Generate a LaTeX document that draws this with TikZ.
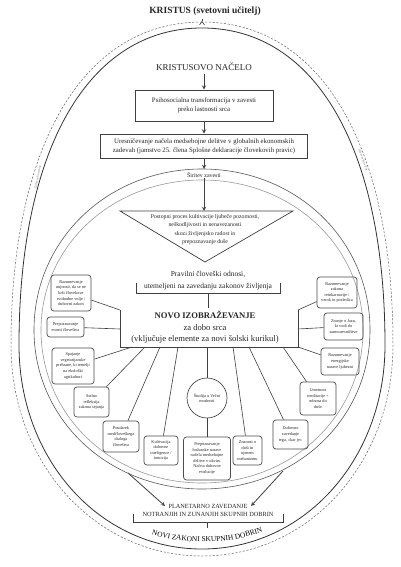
\documentclass[tikz,border=0pt]{standalone}
\usepackage{fontspec}
\setmainfont{Liberation Serif}
\usetikzlibrary{decorations.text}

\def\midX{204}
\def\baseY{347}
% egg shaped ring: centre x, top, widest, bottom, half width, top bulge, style
\newcommand{\egg}[7]{%
  \draw [#7] (#1,#2)
    .. controls ({#1-#6*#5},#2) and ({#1-#5},{#3-#6*(#3-#2)}) .. ({#1-#5},#3)
    .. controls ({#1-#5},{#3+0.56*(#4-#3)}) and ({#1-0.56*#5},#4) .. (#1,#4)
    .. controls ({#1+0.56*#5},#4) and ({#1+#5},{#3+0.56*(#4-#3)}) .. ({#1+#5},#3)
    .. controls ({#1+#5},{#3-#6*(#3-#2)}) and ({#1+#6*#5},#2) .. cycle;}

\begin{document}
\begin{tikzpicture}[x=1pt, y=-1pt, >=stealth,
    card/.style={draw=black!70, line width=0.7pt, rounded corners=3pt, align=center,
      inner sep=1pt, text=black!85, font=\fontsize{4.3}{5.6}\selectfont},
    frame/.style={draw=black!75, line width=0.8pt, align=center, text=black!85,
      font=\fontsize{6.8}{9}\selectfont},
    link/.style={draw=black!75, line width=0.6pt},
    tag/.style={text=black!55, font=\fontsize{3}{3}\selectfont}]
  \useasboundingbox (0,0) rectangle (400,567);
  \fill [white] (0,0) rectangle (400,567);

  \egg{202}{22}{345}{556}{191}{0.62}{black!60, line width=0.5pt, dash pattern=on 2.2pt off 1.6pt}
  \egg{202}{28}{345}{549}{183}{0.62}{black!80, line width=0.8pt}
  \egg{202}{169}{330}{489}{168}{0.56}{black!65, line width=0.6pt}
  \egg{202}{180}{330}{483}{161}{0.56}{black!40, line width=0.6pt}

  \node [tag, rotate=79] (lefttag) at (38,177) {Duhovna hierarhija};
  \node [tag, rotate=-70] (righttag) at (363,160) {Duhovna hierarhija};

  \node [text=black!85, font=\bfseries\fontsize{9.5}{11}\selectfont] (kristus) at (205,11) {KRISTUS (svetovni učitelj)};
  \coordinate (fork) at (202,21.5);
  \draw [link] (kristus.south -| fork) -- (fork);
  \draw [link] (199.5,25) -- (fork) -- (204.5,25);

  \node [text=black!85, font=\fontsize{9}{10}\selectfont] (principle) at (\midX,67) {KRISTUSOVO NAČELO};
  \node [frame, minimum width=138, minimum height=31] (psych) at (\midX,105.5)
    {Psihosocialna transformacija v zavesti\\preko lastnosti srca};
  \node [frame, minimum width=207, minimum height=24, inner sep=1pt] (econ) at (\midX,146)
    {Uresničevanje načela medsebojne delitve v globalnih ekonomskih\\zadevah (jamstvo 25. člena Splošne deklaracije človekovih pravic)};
  \draw [link, line width=0.9pt, ->] (principle) -- (psych);
  \draw [link, line width=0.9pt, ->] (psych) -- (econ);

  \coordinate (ringtop) at (\midX,169);
  \node [text=black!85, inner sep=0.5pt, font=\fontsize{5.9}{7}\selectfont] (expand) at (\midX,175) {Širitev zavesti};
  \draw [link, line width=0.9pt, ->] (econ) -- (ringtop);

  \coordinate (tl) at (120,211);
  \coordinate (tr) at (293,211);
  \coordinate (tb) at (205,262);
  \coordinate (tritop) at (\midX,211);
  \draw [link, line width=0.7pt] (tl) -- (tr) -- (tb) -- cycle;
  \node [align=center, text=black!85, font=\fontsize{5.8}{8.6}\selectfont] (tri) at (205,229.5)
    {Postopni proces kultivacije ljubeče pozornosti,\\neškodljivosti in nenavezanosti\\skozi življenjsko radost in\\prepoznavanje duše};
  \draw [link, line width=0.9pt, ->] (expand) -- (tritop);

  \node [align=center, text=black!85, font=\fontsize{7.5}{12}\selectfont] (rel) at (208,281)
    {Pravilni človeški odnosi,\\utemeljeni na zavedanju zakonov življenja};
  \node [align=center, text=black!85, font=\fontsize{8.6}{11.5}\selectfont] (edu) at (205,327.5)
    {{\bfseries NOVO IZOBRAŽEVANJE}\\za dobo srca\\(vključuje elemente za novi šolski kurikul)};
  \coordinate (relstem) at (208,293);
  \draw [link] (136,283) -- (136,293) -- (280,293) -- (280,283);
  \draw [link] (relstem) -- (relstem |- edu.north);

  % left, right and lower boxes
  \node [card, minimum width=40, minimum height=36] (l1) at (71,293)
    {Razumevanje\\nujnosti, da se ne\\krši človekove\\svobodne volje /\\duhovni zakon};
  \node [card, minimum width=37, minimum height=20] (l2) at (65.5,327)
    {Prepoznavanje\\enosti človeštva};
  \node [card, minimum width=42, minimum height=36] (l3) at (73,366)
    {Spajanje\\vegetarijanske\\prehrane, ki temelji\\na ekološki\\agrikulturi};
  \node [card, minimum width=35, minimum height=30] (l4) at (91.5,402)
    {Stalna\\refleksija\\zakona sejanja};
  \node [card, minimum width=36, minimum height=31] (b1) at (121,436.5)
    {Poudarek\\medčloveškega\\dialoga\\človeštva};
  \node [card, minimum width=34, minimum height=29] (b2) at (161,450.5)
    {Kultivacija\\duhovne\\inteligence /\\intuicija};
  \node [card, circle, rounded corners=0pt, minimum size=40] (b3) at (207,398)
    {Študija o Večni\\modrosti};
  \node [card, minimum width=47, minimum height=43] (b4) at (207,458.5)
    {Prepoznavanje\\božanske narave\\načela medsebojne\\delitve v okviru\\Načrta duhovne\\evolucije};
  \node [card, minimum width=29, minimum height=29] (b5) at (247.5,450.5)
    {Znanost o\\duši in\\njenem\\mehanizmu};
  \node [card, minimum width=35, minimum height=29] (b6) at (290.5,434.5)
    {Duhovno\\zavedanje\\tega, «kar je»};
  \node [card, minimum width=36, minimum height=33] (b7) at (318,398.5)
    {Umetnost\\meditacije +\\odnosa do\\duše};
  \node [card, minimum width=40, minimum height=31] (r1) at (337,292.5)
    {Razumevanje\\zakona\\reinkarnacije /\\vzrok in posledica};
  \node [card, minimum width=39, minimum height=27] (r2) at (343.5,326.5)
    {Znanje o Jazu,\\ki vodi do\\samouresničitve};
  \node [card, minimum width=38, minimum height=27] (r3) at (340,361.5)
    {Razumevanje\\energijske\\narave ljubezni};

  \coordinate (jl1) at (120,310);
  \coordinate (jl2) at (120,329);
  \coordinate (jl3) at (120,\baseY);
  \coordinate (jr1) at (298,310);
  \coordinate (jr2) at (298,329);
  \coordinate (jr3) at (298,\baseY);
  \draw [link] (jl1) -- (jl3) -- (jr3) -- (jr1);
  \draw [link] (jl1) -- (l1);
  \draw [link] (jl2) -- (l2);
  \draw [link] (jr1) -- (r1);
  \draw [link] (jr2) -- (r2);
  \draw [link] (jr3) -- (r3);
  \foreach \n/\x in {l3/132, l4/145, b1/160, b2/178, b3/207, b5/233, b6/249, b7/283} {
    \coordinate (f\n) at (\x,\baseY);
    \draw [link] (f\n) -- (\n);
  }
  \draw [link] (b3) -- (b4);

  % bottom
  \node [text=black!85, font=\fontsize{6.3}{7}\selectfont] (planet) at (208,506) {PLANETARNO ZAVEDANJE};
  \node [text=black!85, font=\fontsize{6.3}{7}\selectfont] (goods) at (208,514.5) {NOTRANJIH IN ZUNANJIH SKUPNIH DOBRIN};
  \coordinate (pl) at (128,473);
  \coordinate (pr) at (283,471);
  \draw [link, line width=0.8pt, ->] (pl) -- (planet.west);
  \draw [link, line width=0.8pt, ->] (pr) -- (planet.east);
  \coordinate (goodstem) at (207,522);
  \coordinate (lawtop) at (207,528);
  \draw [link] (133,514) -- (133,522) -- (283,522) -- (283,514);
  \draw [link] (goodstem) -- (lawtop);
  \path [decorate, decoration={text along path, text align=center,
      text={|\fontsize{7.4}{8}\selectfont|NOVI ZAKONI SKUPNIH DOBRIN}}]
    (140,531) .. controls (180,546) and (235,546) .. (274,527);
\end{tikzpicture}
\end{document}
